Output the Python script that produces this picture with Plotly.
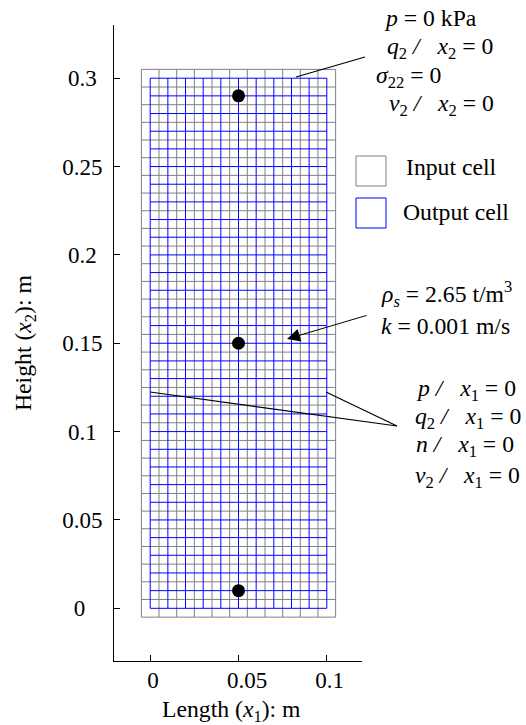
import plotly.graph_objects as go

# --- data ---
input_x = [-0.005 + 0.01 * i for i in range(12)]
input_y = [-0.005 + 0.01 * i for i in range(32)]
output_x = [0.01 * i for i in range(11)]
output_y = [0.01 * i for i in range(31)]
point_x = [0.05, 0.05, 0.05]
point_y = [0.01, 0.15, 0.29]
NB = "\u00a0"
x_ticks = [0, 0.05, 0.1]
x_labels = [NB + "0", NB * 3 + "0.05", NB * 1 + "0.1"]
y_ticks = [0, 0.05, 0.1, 0.15, 0.2, 0.25, 0.3]
y_labels = ["0" + NB * 3, "0.05", "0.1" + NB, "0.15", "0.2" + NB, "0.25", "0.3" + NB]

W, H = 526, 725
L, R, T, B = 114, 362, 25, 661
FONT = "Liberation Serif"
FS = 23
AFS = 23.7
GRAY = "#808080"
BLUE = "#0000ff"

X_RANGE = [(L - 150.2) / 1766, (R - 150.2) / 1766]
Y_RANGE = [-(B - 608.3) / 1767, (608.3 - T) / 1767]


def grid(xs, ys):
    gx, gy = [], []
    for x in xs:
        gx += [x, x, None]
        gy += [ys[0], ys[-1], None]
    for y in ys:
        gx += [xs[0], xs[-1], None]
        gy += [y, y, None]
    return gx, gy


def px(x):
    return (x - L) / (R - L)


def py(y):
    return (B - y) / (B - T)


fig = go.Figure()
gx, gy = grid(input_x, input_y)
fig.add_trace(go.Scatter(x=gx, y=gy, mode="lines", line=dict(color=GRAY, width=1), name="Input cell", showlegend=False))
gx, gy = grid(output_x, output_y)
fig.add_trace(go.Scatter(x=gx, y=gy, mode="lines", line=dict(color=BLUE, width=1), name="Output cell", showlegend=False))
fig.add_trace(go.Scatter(x=point_x, y=point_y, mode="markers", marker=dict(color="black", size=13), showlegend=False))

texts = [
    (384, 18, "<i>p</i> = 0 kPa"),
    (387, 48, "<i>q</i><sub>2</sub> <i>/</i>   <i>x</i><sub>2</sub> = 0"),
    (376, 77, "<i>σ</i><sub>22</sub> = 0"),
    (389, 105, "<i>v</i><sub>2</sub> <i>/</i>   <i>x</i><sub>2</sub> = 0"),
    (406, 167, "Input cell"),
    (403, 212, "Output cell"),
    (381, 294, "<i>ρ</i><sub><i>s</i></sub> = 2.65 t/m<sup>3</sup>"),
    (381, 326, "<i>k</i> = 0.001 m/s"),
    (416, 390, "<i>p</i> <i>/</i>   <i>x</i><sub>1</sub> = 0"),
    (415, 418, "<i>q</i><sub>2</sub> <i>/</i>   <i>x</i><sub>1</sub> = 0"),
    (416, 446, "<i>n</i> <i>/</i>   <i>x</i><sub>1</sub> = 0"),
    (415, 477, "<i>v</i><sub>2</sub> <i>/</i>   <i>x</i><sub>1</sub> = 0"),
]
annotations = [
    dict(text=t, x=px(x), y=py(y), xref="paper", yref="paper", xanchor="left", yanchor="middle",
         showarrow=False, font=dict(family=FONT, size=AFS, color="black"), borderpad=0, borderwidth=0)
    for x, y, t in texts
]
annotations.append(dict(text="", x=px(287), y=py(339), ax=81, ay=-24, xref="paper", yref="paper",
                        axref="pixel", ayref="pixel", showarrow=True, arrowhead=2, arrowsize=2.6,
                        arrowwidth=1, arrowcolor="black", standoff=0))
annotations.append(dict(text="Length (<i>x</i><sub>1</sub>): m", x=px(231.5), y=py(711), xref="paper", yref="paper",
                        xanchor="center", yanchor="middle", showarrow=False,
                        font=dict(family=FONT, size=AFS, color="black")))
annotations.append(dict(text="Height (<i>x</i><sub>2</sub>): m", x=px(25), y=py(343), xref="paper", yref="paper",
                        xanchor="center", yanchor="middle", showarrow=False, textangle=-90,
                        font=dict(family=FONT, size=AFS, color="black")))

shapes = []
for x0, y0, x1, y1 in [(296, 77, 365, 57), (326, 392, 397, 426), (150, 392, 397, 426)]:
    shapes.append(dict(type="line", xref="paper", yref="paper", x0=px(x0), y0=py(y0), x1=px(x1), y1=py(y1),
                       line=dict(color="black", width=1.2)))
for y0, color in [(156, GRAY), (198, BLUE)]:
    shapes.append(dict(type="rect", xref="paper", yref="paper", x0=px(356), y0=py(y0), x1=px(386), y1=py(y0 + 30),
                       line=dict(color=color, width=1), fillcolor="white"))

fig.update_layout(
    width=W, height=H, margin=dict(l=L, r=W - R, t=T, b=H - B, autoexpand=False),
    paper_bgcolor="white", plot_bgcolor="white", showlegend=False, hovermode=False,
    font=dict(family=FONT, size=FS, color="black"),
    annotations=annotations, shapes=shapes,
    xaxis=dict(range=X_RANGE, tickvals=x_ticks, ticktext=x_labels, ticks="inside", ticklen=6, tickwidth=1,
               tickcolor="black", showline=True, linecolor="black", linewidth=1, showgrid=False, zeroline=False,
               ticklabelstandoff=-2),
    yaxis=dict(range=Y_RANGE, tickvals=y_ticks, ticktext=y_labels, ticks="inside", ticklen=6, tickwidth=1,
               tickcolor="black", showline=True, linecolor="black", linewidth=1, showgrid=False, zeroline=False,
               ticklabelstandoff=6),
)
fig.write_html("out.html", config={"displayModeBar": False},
               post_script="document.body.style.margin='0';document.documentElement.style.overflow='hidden';")
